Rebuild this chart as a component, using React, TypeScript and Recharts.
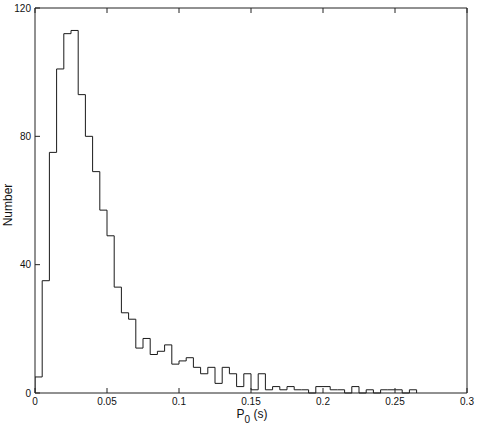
import React from 'react'
import { LineChart, Line, XAxis, YAxis, Label } from 'recharts'

// histogram of P0, bin width 0.005 s starting at 0
const binWidth = 0.005
const counts = [
  5, 35, 75, 101, 112, 113, 93, 80, 69, 57,
  49, 33, 25, 23, 14, 17, 12, 13, 15, 9,
  10, 11, 8, 6, 8, 3, 8, 6, 2, 6,
  1, 6, 1, 2, 1, 2, 1, 1, 0, 2,
  2, 1, 1, 0, 2, 0, 1, 0, 1, 1,
  1, 0, 1,
]
const xTicks = [0, 0.05, 0.1, 0.15, 0.2, 0.25, 0.3]
const yTicks = [0, 40, 80, 120]

const FONT = '"Liberation Sans", Arial, Helvetica, sans-serif'

export default function App() {
  // stairs outline: start at the axis, one point per bin edge
  const data = [{ x: 0, y: 0 }]
  counts.forEach((c, i) => data.push({ x: i * binWidth, y: c }))
  data.push({ x: counts.length * binWidth, y: 0 })

  const tickStyle = { fontSize: 10, fill: '#111', fontFamily: FONT }

  return (
    <div style={{ width: 480, height: 436 }}>
      <style>{'body{margin:0;background:#fff}'}</style>
      <LineChart
        width={480}
        height={436}
        data={data}
        margin={{ top: 0, right: 0, bottom: 0, left: 0 }}
      >
        <XAxis
          xAxisId="bottom"
          dataKey="x"
          type="number"
          domain={[0, 0.3]}
          ticks={xTicks}
          tickFormatter={(v: number) => String(Number(v.toFixed(3)))}
          height={43}
          stroke="#222"
          tickSize={-5}
          tickMargin={10}
          tick={tickStyle}
          allowDataOverflow
        >
          <Label
            content={() => (
              <text x={252} y={418} textAnchor="middle" fontSize={12} fontFamily={FONT} fill="#111">
                <tspan>P</tspan>
                <tspan dy={5} fontSize={10}>0</tspan>
                <tspan dy={-5}> (s)</tspan>
              </text>
            )}
          />
        </XAxis>
        <XAxis
          xAxisId="top"
          orientation="top"
          dataKey="x"
          type="number"
          domain={[0, 0.3]}
          ticks={xTicks}
          tickFormatter={() => ''}
          height={8}
          stroke="#222"
          tickSize={-5}
          allowDataOverflow
        />
        <YAxis
          yAxisId="left"
          type="number"
          domain={[0, 120]}
          ticks={yTicks}
          width={35}
          stroke="#222"
          tickSize={-5}
          tickMargin={9}
          tick={tickStyle}
        >
          <Label
            content={() => (
              <text
                x={12}
                y={205}
                textAnchor="middle"
                fontSize={12}
                fontFamily={FONT}
                fill="#111"
                transform="rotate(-90 12 205)"
              >
                Number
              </text>
            )}
          />
        </YAxis>
        <YAxis
          yAxisId="right"
          orientation="right"
          type="number"
          domain={[0, 120]}
          ticks={yTicks}
          width={13}
          stroke="#222"
          tickSize={-5}
          tickFormatter={() => ''}
        />
        <Line
          xAxisId="bottom"
          yAxisId="left"
          dataKey="y"
          type="stepAfter"
          stroke="#1a1a1a"
          strokeWidth={1}
          dot={false}
          activeDot={false}
          isAnimationActive={false}
        />
      </LineChart>
    </div>
  )
}
